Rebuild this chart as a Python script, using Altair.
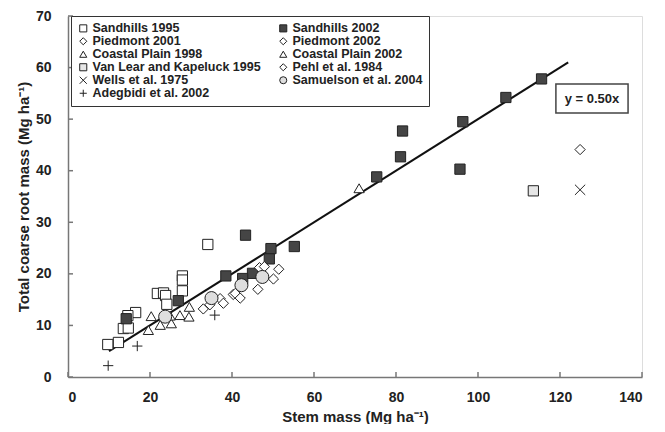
import altair as alt
import pandas as pd

# ---------------- data ----------------
series_order = [
    "Sandhills 1995", "Sandhills 2002",
    "Piedmont 2001", "Piedmont 2002",
    "Coastal Plain 1998", "Coastal Plain 2002",
    "Van Lear and Kapeluck 1995", "Pehl et al. 1984",
    "Wells et al. 1975", "Samuelson et al. 2004",
    "Adegbidi et al. 2002",
]

sandhills_1995_x = [34.1, 27.9, 27.9, 27.9, 21.8, 23.3, 23.8, 24.1, 16.5, 14.6, 13.5, 14.7, 12.3, 9.7]
sandhills_1995_y = [25.7, 19.6, 18.8, 16.7, 16.2, 16.3, 15.8, 14.1, 12.5, 11.9, 9.4, 9.5, 6.7, 6.3]

sandhills_2002_x = [115.5, 106.8, 96.3, 81.6, 81.1, 95.6, 75.3, 55.2, 49.5, 49.1, 43.3, 45.0, 42.6, 38.5, 26.9, 14.2]
sandhills_2002_y = [57.8, 54.2, 49.5, 47.7, 42.7, 40.3, 38.8, 25.3, 24.9, 22.9, 27.5, 20.1, 19.1, 19.6, 14.8, 11.3]

piedmont_2001_x = [33.0, 34.6, 37.1, 37.9, 40.3, 40.8, 42.0]
piedmont_2001_y = [13.2, 14.0, 15.2, 14.3, 16.0, 16.2, 15.3]

piedmont_2002_x = [46.3, 46.7, 47.9, 50.1, 51.4]
piedmont_2002_y = [17.0, 21.2, 21.4, 19.0, 20.9]

coastal_1998_x = [20.3, 19.6, 22.5, 25.2, 27.3, 29.6, 29.5, 24.9]
coastal_1998_y = [11.8, 9.1, 10.1, 10.4, 12.0, 13.6, 11.7, 11.9]

coastal_2002_x = [71.0]
coastal_2002_y = [36.6]

vanlear_x = [113.5]
vanlear_y = [36.1]

pehl_x = [124.9]
pehl_y = [44.1]

wells_x = [124.9]
wells_y = [36.3]

samuelson_x = [23.7, 35.0, 42.3, 47.4]
samuelson_y = [11.7, 15.3, 17.8, 19.4]

adegbidi_x = [9.8, 16.9, 35.8]
adegbidi_y = [2.2, 6.0, 12.0]

fit_slope = 0.50
fit_x = [10, 122]

x_ticks = [0, 20, 40, 60, 80, 100, 120, 140]
y_ticks = [0, 10, 20, 30, 40, 50, 60, 70]

label_text = ["y = 0.50x"]
label_x = [127.8]
label_y = [54.0]
label_box_x = [119.0]
label_box_x2 = [136.6]
label_box_y = [51.2]
label_box_y2 = [56.8]

# ---------------- build tables ----------------
pairs = [
    ("Sandhills 1995", sandhills_1995_x, sandhills_1995_y),
    ("Sandhills 2002", sandhills_2002_x, sandhills_2002_y),
    ("Piedmont 2001", piedmont_2001_x, piedmont_2001_y),
    ("Piedmont 2002", piedmont_2002_x, piedmont_2002_y),
    ("Coastal Plain 1998", coastal_1998_x, coastal_1998_y),
    ("Coastal Plain 2002", coastal_2002_x, coastal_2002_y),
    ("Van Lear and Kapeluck 1995", vanlear_x, vanlear_y),
    ("Pehl et al. 1984", pehl_x, pehl_y),
    ("Wells et al. 1975", wells_x, wells_y),
    ("Samuelson et al. 2004", samuelson_x, samuelson_y),
    ("Adegbidi et al. 2002", adegbidi_x, adegbidi_y),
]
rows = []
for name, xs, ys in pairs:
    for a, b in zip(xs, ys):
        rows.append({"series": name, "stem": a, "root": b})
pts = pd.DataFrame(rows)
pts_main = pts[pts["series"] != "Samuelson et al. 2004"]
pts_circ = pts[pts["series"] == "Samuelson et al. 2004"]

fit = pd.DataFrame({"stem": fit_x, "root": [fit_slope * v for v in fit_x]})
xt = pd.DataFrame({"v": x_ticks})
yt = pd.DataFrame({"v": y_ticks})
ann = pd.DataFrame({"t": label_text, "x": label_x, "y": label_y,
                    "bx": label_box_x, "bx2": label_box_x2,
                    "by": label_box_y, "by2": label_box_y2})

X_PATH = "M-1,-1L1,1M-1,1L1,-1"
PLUS_PATH = "M-1,0L1,0M0,-1L0,1"
shapes = ["square", "square", "diamond", "diamond", "triangle-up", "triangle-up",
          "square", "diamond", X_PATH, "circle", PLUS_PATH]
fills = ["white", "#454545", "white", "white", "white", "white",
         "#e6e6e6", "white", "white", "#dedede", "white"]
strokes = ["#222222"] * 11

FONT = "Liberation Sans"
W, H = 574, 361

xscale = alt.Scale(domain=[0, 140], nice=False, zero=False)
yscale = alt.Scale(domain=[0, 70], nice=False, zero=False)

xaxis = alt.Axis(values=x_ticks, ticks=False, grid=False, labelFont=FONT, labelFontWeight="bold",
                 labelFontSize=14, labelColor="#222", labelPadding=13, domainColor="#777",
                 domainWidth=1.5, title="Stem mass (Mg ha⁻¹)", titleFont=FONT,
                 titleFontSize=15, titleFontWeight="bold", titleColor="#222", titlePadding=5)
yaxis = alt.Axis(values=y_ticks, ticks=False, grid=False, labelFont=FONT, labelFontWeight="bold",
                 labelFontSize=14, labelColor="#222", labelPadding=17, domainColor="#777",
                 domainWidth=1.5, title="Total coarse root mass (Mg ha⁻¹)", titleFont=FONT,
                 titleFontSize=15, titleFontWeight="bold", titleColor="#222", titlePadding=4)

shape_scale = alt.Scale(domain=series_order, range=shapes)
fill_scale = alt.Scale(domain=series_order, range=fills)
stroke_scale = alt.Scale(domain=series_order, range=strokes)

legend = alt.Legend(title=None, orient="none", legendX=3, legendY=0, columns=2,
                    direction="horizontal",
                    strokeColor="#333", fillColor="white", padding=6,
                    labelFont=FONT, labelFontWeight="bold", labelFontSize=12.5,
                    labelColor="#222", symbolSize=50, symbolStrokeWidth=1,
                    rowPadding=-2, columnPadding=16, labelOffset=3, labelLimit=400)


def point_layer(df, size):
    return alt.Chart(df).mark_point(filled=True, size=size, strokeWidth=1, opacity=1).encode(
        x=alt.X("stem:Q", scale=xscale, axis=xaxis),
        y=alt.Y("root:Q", scale=yscale, axis=yaxis),
        shape=alt.Shape("series:N", scale=shape_scale, legend=legend, sort=series_order),
        fill=alt.Fill("series:N", scale=fill_scale, legend=legend, sort=series_order),
        stroke=alt.Stroke("series:N", scale=stroke_scale, legend=legend, sort=series_order),
    )


line = alt.Chart(fit).mark_line(color="#111", strokeWidth=2).encode(
    x=alt.X("stem:Q", scale=xscale), y=alt.Y("root:Q", scale=yscale))

xticks = alt.Chart(xt).mark_rule(color="#777", strokeWidth=1.5).encode(
    x=alt.X("v:Q", scale=xscale), y=alt.value(H), y2=alt.value(H - 5))
yticks = alt.Chart(yt).mark_rule(color="#777", strokeWidth=1.5).encode(
    y=alt.Y("v:Q", scale=yscale), x=alt.value(0), x2=alt.value(5))

box = alt.Chart(ann).mark_rect(fill="white", stroke="#444", strokeWidth=1.5).encode(
    x=alt.X("bx:Q", scale=xscale), x2="bx2:Q",
    y=alt.Y("by:Q", scale=yscale), y2="by2:Q")
txt = alt.Chart(ann).mark_text(font=FONT, fontWeight="bold", fontSize=13, color="#222").encode(
    x=alt.X("x:Q", scale=xscale), y=alt.Y("y:Q", scale=yscale), text="t:N")

chart = alt.layer(
    xticks, yticks, line,
    point_layer(pts_main, 105), point_layer(pts_circ, 170),
    box, txt,
).properties(
    width=W, height=H,
    padding={"left": 8, "top": 1, "right": 0, "bottom": 0},
).configure_view(stroke="#777", strokeWidth=1.5).configure(background="white")

chart.save("out.html", embed_options={"renderer": "svg", "actions": False})
